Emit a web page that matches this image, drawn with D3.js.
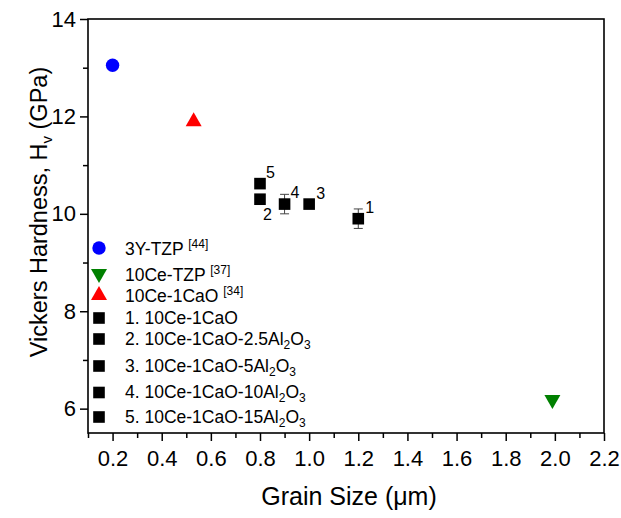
<!DOCTYPE html>
<html>
<head>
<meta charset="utf-8">
<script src="https://cdn.jsdelivr.net/npm/d3@7"></script>
<style>
  body { margin: 0; background: #fff; }
  svg { display: block; font-family: "Liberation Sans", Arial, sans-serif; }
</style>
</head>
<body>
<svg id="chart" width="621" height="518"></svg>
<script>
// ---- data ----
const refNames = ["3Y-TZP", "10Ce-TZP", "10Ce-1CaO"];
const refCites = ["[44]", "[37]", "[34]"];
const refX = [0.2, 1.99, 0.53];
const refY = [13.05, 6.18, 11.9];
const refColors = ["#0000ff", "#008000", "#ff0000"];
const refShapes = ["circle", "down", "up"];

const sampleIds = ["1", "2", "3", "4", "5"];
const samplePrefix = ["10Ce-1CaO", "10Ce-1CaO-2.5Al", "10Ce-1CaO-5Al", "10Ce-1CaO-10Al", "10Ce-1CaO-15Al"];
const sampleHasOxide = [false, true, true, true, true];
const sampleX = [1.2, 0.8, 1.0, 0.9, 0.8];
const sampleY = [9.9, 10.3, 10.2, 10.2, 10.62];
const sampleErr = [0.2, 0, 0, 0.2, 0];

const xMajorTicks = [0.2, 0.4, 0.6, 0.8, 1.0, 1.2, 1.4, 1.6, 1.8, 2.0, 2.2];
const xMinorTicks = [0.1, 0.3, 0.5, 0.7, 0.9, 1.1, 1.3, 1.5, 1.7, 1.9, 2.1];
const yMajorTicks = [6, 8, 10, 12, 14];
const yMinorTicks = [7, 9, 11, 13];

// ---- layout ----
const L = 88, R = 604, T = 19, B = 433;
const svg = d3.select("#chart");
const x = d3.scaleLinear().domain([0.1, 2.2]).range([L, R]);
const y = d3.scaleLinear().domain([5.5, 14]).range([B, T]);

// axes
svg.append("g").attr("transform", `translate(0,${B})`)
  .call(d3.axisBottom(x).tickValues(xMajorTicks).tickSize(8).tickPadding(9).tickFormat(d3.format(".1f")));
svg.append("g").attr("transform", `translate(0,${B})`)
  .call(d3.axisBottom(x).tickValues(xMinorTicks).tickSize(5).tickFormat(""));
svg.append("g").attr("transform", `translate(${L},0)`)
  .call(d3.axisLeft(y).tickValues(yMajorTicks).tickSize(8).tickPadding(4).tickFormat(d3.format("d")));
svg.append("g").attr("transform", `translate(${L},0)`)
  .call(d3.axisLeft(y).tickValues(yMinorTicks).tickSize(5).tickFormat(""));
svg.selectAll(".domain").remove();
svg.selectAll(".tick line").attr("stroke", "#000").attr("stroke-width", 1.5);
svg.selectAll(".tick text").attr("font-size", 22).attr("fill", "#000")
  .attr("font-family", "Liberation Sans, Arial, sans-serif");

// frame
svg.append("rect").attr("x", L).attr("y", T).attr("width", R - L).attr("height", B - T)
  .attr("fill", "none").attr("stroke", "#000").attr("stroke-width", 1.6);

// axis titles
svg.append("text").attr("x", (L + R) / 2 + 3).attr("y", 505).attr("text-anchor", "middle")
  .attr("font-size", 25).text("Grain Size (\u03bcm)");
const yt = svg.append("text").attr("transform", `translate(47,212) rotate(-90)`)
  .attr("text-anchor", "middle").attr("font-size", 23.5);
yt.append("tspan").text("Vickers Hardness, H");
yt.append("tspan").attr("font-size", 15).attr("dy", 5).text("v");
yt.append("tspan").attr("dy", -5).text(" (GPa)");

// symbol helper
function drawShape(g, shape, cx, cy, color) {
  if (shape === "circle") {
    g.append("circle").attr("cx", cx).attr("cy", cy).attr("r", 6.7).attr("fill", color);
  } else if (shape === "up") {
    g.append("path").attr("d", `M${cx},${cy - 9}L${cx + 8},${cy + 5}L${cx - 8},${cy + 5}Z`).attr("fill", color);
  } else if (shape === "down") {
    g.append("path").attr("d", `M${cx},${cy + 9}L${cx + 8},${cy - 5}L${cx - 8},${cy - 5}Z`).attr("fill", color);
  } else {
    g.append("rect").attr("x", cx - 5.8).attr("y", cy - 5.8).attr("width", 11.6).attr("height", 11.6).attr("fill", color);
  }
}

// reference points
const pts = svg.append("g");
refX.forEach((v, i) => drawShape(pts, refShapes[i], x(v), y(refY[i]), refColors[i]));

// error bars for samples
sampleX.forEach((v, i) => {
  if (sampleErr[i] > 0) {
    const cx = x(v), y1 = y(sampleY[i] + sampleErr[i]), y2 = y(sampleY[i] - sampleErr[i]);
    const g = pts.append("g").attr("stroke", "#444").attr("stroke-width", 1);
    g.append("line").attr("x1", cx).attr("x2", cx).attr("y1", y1).attr("y2", y2);
    g.append("line").attr("x1", cx - 4.5).attr("x2", cx + 4.5).attr("y1", y1).attr("y2", y1);
    g.append("line").attr("x1", cx - 4.5).attr("x2", cx + 4.5).attr("y1", y2).attr("y2", y2);
  }
});
sampleX.forEach((v, i) => drawShape(pts, "square", x(v), y(sampleY[i]), "#000"));

// point labels
const labelOffsets = [[7, -6], [3, 21], [7, -5], [6, -6], [6, -6]];
sampleX.forEach((v, i) => {
  svg.append("text").attr("x", x(v) + labelOffsets[i][0]).attr("y", y(sampleY[i]) + labelOffsets[i][1])
    .attr("font-size", 16).text(sampleIds[i]);
});

// legend
const legRows = [248, 274, 295, 318, 339, 366, 392.5, 417];
const leg = svg.append("g");
refNames.forEach((n, i) => {
  drawShape(leg, refShapes[i], 99, legRows[i], refColors[i]);
  const t = leg.append("text").attr("x", 125).attr("y", legRows[i] + 7).attr("font-size", 17.5);
  t.append("tspan").text(n + " ");
  t.append("tspan").attr("font-size", 12).attr("dy", -7).text(refCites[i]);
});
sampleIds.forEach((id, i) => {
  const ry = legRows[3 + i];
  drawShape(leg, "square", 99, ry, "#000");
  const t = leg.append("text").attr("x", 125).attr("y", ry + 5.5).attr("font-size", 17.5);
  t.append("tspan").text(id + ". " + samplePrefix[i]);
  if (sampleHasOxide[i]) {
    t.append("tspan").attr("font-size", 12).attr("dy", 4).text("2");
    t.append("tspan").attr("dy", -4).text("O");
    t.append("tspan").attr("font-size", 12).attr("dy", 4).text("3");
  }
});
</script>
</body>
</html>
